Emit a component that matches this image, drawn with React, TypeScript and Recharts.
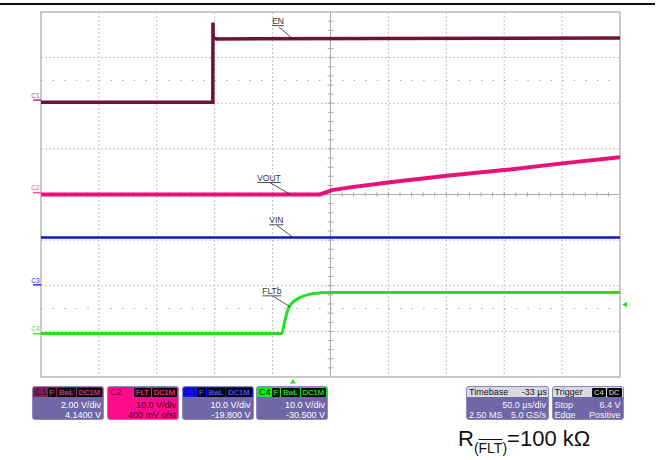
import React from 'react';
import {
  ComposedChart,
  Line,
  XAxis,
  YAxis,
  CartesianGrid,
  ReferenceLine,
  ReferenceDot,
  ReferenceArea,
} from 'recharts';

// Time axis in µs (10 div x 50 µs/div), vertical axis in screen divisions (centre = 0)
const timeTicks = [0, 50, 100, 150, 200, 250, 300, 350, 400, 450, 500];
const levelTicks = [-4, -3, -2, -1, 0, 1, 2, 3, 4];
const minorTimeTicks = Array.from({ length: 49 }, (_, i) => (i + 1) * 10);
const minorLevelTicks = Array.from({ length: 39 }, (_, i) => -4 + (i + 1) * 0.2);

// C1 (EN)
const enData = [
  { t: 0, v: 2.02 },
  { t: 148.4, v: 2.02 },
  { t: 148.5, v: 3.77 },
  { t: 148.8, v: 3.43 },
  { t: 152, v: 3.41 },
  { t: 500, v: 3.43 },
];
// C2 (VOUT)
const voutData = [
  { t: 0, v: 0 },
  { t: 240.9, v: 0 },
  { t: 251.3, v: 0.096 },
  { t: 266.8, v: 0.156 },
  { t: 299.7, v: 0.261 },
  { t: 350.3, v: 0.41 },
  { t: 400.1, v: 0.535 },
  { t: 450.2, v: 0.682 },
  { t: 500, v: 0.814 },
];
// C3 (VIN)
const vinData = [
  { t: 0, v: -0.94 },
  { t: 500, v: -0.94 },
];
// C4 (FLTb)
const fltData = [
  { t: 0, v: -3.046 },
  { t: 207.9, v: -3.046 },
  { t: 210.7, v: -2.754 },
  { t: 213.6, v: -2.498 },
  { t: 217.9, v: -2.353 },
  { t: 223.7, v: -2.257 },
  { t: 232.3, v: -2.184 },
  { t: 240.9, v: -2.156 },
  { t: 249.6, v: -2.147 },
  { t: 500, v: -2.147 },
];

// trace labels and their anchor points on the traces
const traceLabelText = ['EN', 'VOUT', 'VIN', 'FLTb'];
const traceLabelT = [216.9, 215.6, 217.6, 215.0];
const traceLabelV = [3.425, 0, -0.94, -2.46];

// channel ground markers (offset / scale in divisions)
const markerNames = ['C1', 'C2', 'C3', 'C4'];
const markerLevels = [2.07, 0.04, -1.98, -3.05];

// trigger
const triggerTime = 217.6;
const triggerLevel = -2.41;

// info boxes
const chanNames = ['C1', 'C2', 'C3', 'C4'];
const chanBadges = [
  ['F', 'BwL', 'DC1M'],
  ['FLT', 'DC1M'],
  ['F', 'BwL', 'DC1M'],
  ['F', 'BwL', 'DC1M'],
];
const chanScale = ['2.00 V/div', '10.0 V/div', '10.0 V/div', '10.0 V/div'];
const chanOffset = ['4.1400 V', '400 mV ofst', '-19.800 V', '-30.500 V'];

const timebaseText = ['Timebase', '-33 µs', '50.0 µs/div', '2.50 MS', '5.0 GS/s'];
const triggerText = ['Trigger', 'C4', 'DC', 'Stop', '6.4 V', 'Edge', 'Positive'];

// ---------- styling ----------
const FONT = '"Liberation Sans", Arial, sans-serif';
const traceColors = ['#6e1238', '#e8117a', '#1414c8', '#22e022'];
const markerColors = ['#a3406e', '#ff4fa3', '#2b2bff', '#3fe63f'];
const labelOffsets = [
  { tx: -20, ty: -17, lx: -13, ly: -11 },
  { tx: -33.5, ty: -16.5, lx: -21, ly: -12 },
  { tx: -23.7, ty: -17, lx: -16, ly: -12 },
  { tx: -27.7, ty: -15.3, lx: -16.7, ly: -10.4 },
];
const boxStyles = [
  { head: '#7d2352', name: '#3a0820', badgeBg: '#2a0614', badgeFg: '#c0608a', body: '#6f67a6', bodyFg: '#ffffff' },
  { head: '#ff0c8c', name: '#5a0030', badgeBg: '#1a0010', badgeFg: '#ff5aac', body: '#ff0c8c', bodyFg: '#3a0020' },
  { head: '#1010f0', name: '#00006a', badgeBg: '#000040', badgeFg: '#7070ff', body: '#6f67a6', bodyFg: '#ffffff' },
  { head: '#10ee10', name: '#003000', badgeBg: '#001a00', badgeFg: '#40ff40', body: '#6f67a6', bodyFg: '#ffffff' },
];
const boxLefts = [32, 107, 181.5, 256];

const Badge = ({ text, bg, fg }: { text: string; bg: string; fg: string }) => (
  <span
    style={{
      background: bg,
      color: fg,
      border: '1px solid #000',
      borderRadius: 1,
      fontSize: 7.5,
      lineHeight: '7px',
      height: 7,
      padding: '0 1px',
      marginLeft: 1,
      display: 'inline-block',
    }}
  >
    {text}
  </span>
);

const ChannelBox = ({ i }: { i: number }) => {
  const s = boxStyles[i];
  return (
    <div
      style={{
        position: 'absolute',
        left: boxLefts[i],
        top: 386,
        width: 72,
        height: 34,
        background: s.body,
        borderRadius: 3,
        border: '1px solid #8f88c0',
        boxSizing: 'border-box',
        overflow: 'hidden',
        fontFamily: FONT,
      }}
    >
      <div
        style={{
          height: 10,
          background: s.head,
          display: 'flex',
          alignItems: 'center',
          justifyContent: 'space-between',
          padding: '0 1px 0 2px',
        }}
      >
        <span style={{ color: s.name, fontSize: 9, lineHeight: '10px' }}>{chanNames[i]}</span>
        <span style={{ display: 'flex' }}>
          {chanBadges[i].map((b) => (
            <Badge key={b} text={b} bg={s.badgeBg} fg={s.badgeFg} />
          ))}
        </span>
      </div>
      <div
        style={{
          color: s.bodyFg,
          fontSize: 9,
          lineHeight: '10px',
          textAlign: 'right',
          padding: '3px 2px 0 0',
          whiteSpace: 'nowrap',
        }}
      >
        <div>{chanScale[i]}</div>
        <div>{chanOffset[i]}</div>
      </div>
    </div>
  );
};

const InfoBox = ({ left, width, children, header }: any) => (
  <div
    style={{
      position: 'absolute',
      left,
      top: 386,
      width,
      height: 34,
      background: '#6f67a6',
      borderRadius: 3,
      border: '1px solid #8f88c0',
      boxSizing: 'border-box',
      overflow: 'hidden',
      fontFamily: FONT,
    }}
  >
    <div
      style={{
        height: 10,
        background: '#d9d9e2',
        display: 'flex',
        alignItems: 'center',
        justifyContent: 'space-between',
        padding: '0 1px 0 2px',
        fontSize: 9,
        lineHeight: '10px',
        color: '#111',
      }}
    >
      {header}
    </div>
    <div style={{ color: '#f4f4ff', fontSize: 9, lineHeight: '10px', padding: '3px 2px 0 2px' }}>{children}</div>
  </div>
);

const Row = ({ l, r }: { l?: string; r: string }) => (
  <div style={{ display: 'flex', justifyContent: 'space-between', whiteSpace: 'nowrap' }}>
    <span>{l || ''}</span>
    <span>{r}</span>
  </div>
);

export default function App() {
  const lineColors = traceColors;
  return (
    <div style={{ position: 'absolute', left: 0, top: 0, width: 661, height: 460, background: '#fff', fontFamily: FONT }}>
      <div style={{ position: 'absolute', left: 0, top: 3, width: 655, height: 1.5, background: '#111' }} />
      <ComposedChart width={661} height={460} margin={{ top: 12, left: 41, right: 41, bottom: 83 }}>
        <XAxis type="number" dataKey="t" domain={[0, 500]} ticks={timeTicks} hide allowDataOverflow />
        <YAxis type="number" domain={[-4, 4]} ticks={levelTicks} hide allowDataOverflow />
        <CartesianGrid stroke="#c2c2c2" strokeDasharray="2 2" />
        <ReferenceLine y={2.5} stroke="#a8a8a8" strokeDasharray="1.5 10.08" />
        <ReferenceLine y={-2.5} stroke="#a8a8a8" strokeDasharray="1.5 10.08" />
        <ReferenceLine x={250} stroke="#aaaaaa" />
        <ReferenceLine y={0} stroke="#aaaaaa" />
        {minorTimeTicks.map((t) => (
          <ReferenceLine
            key={'tx' + t}
            segment={[
              { x: t, y: -0.05 },
              { x: t, y: 0.05 },
            ]}
            stroke="#aaaaaa"
          />
        ))}
        {minorLevelTicks.map((v) => (
          <ReferenceLine
            key={'ty' + v}
            segment={[
              { x: 247.5, y: v },
              { x: 252.5, y: v },
            ]}
            stroke="#aaaaaa"
          />
        ))}
        <ReferenceArea x1={0} x2={500} y1={-4} y2={4} fill="none" stroke="#bdbdbd" strokeWidth={1.5} ifOverflow="visible" />

        <Line data={vinData} dataKey="v" type="linear" dot={false} activeDot={false} stroke={lineColors[2]} strokeWidth={2.5} isAnimationActive={false} />
        <Line data={fltData} dataKey="v" type="monotone" dot={false} activeDot={false} stroke={lineColors[3]} strokeWidth={3} isAnimationActive={false} />
        <Line data={voutData} dataKey="v" type="linear" dot={false} activeDot={false} stroke={lineColors[1]} strokeWidth={4} isAnimationActive={false} />
        <Line data={enData} dataKey="v" type="linear" dot={false} activeDot={false} stroke={lineColors[0]} strokeWidth={3.5} isAnimationActive={false} />

        {traceLabelText.map((txt, i) => (
          <ReferenceDot
            key={txt}
            x={traceLabelT[i]}
            y={traceLabelV[i]}
            r={0}
            ifOverflow="visible"
            shape={(p: any) => {
              const o = labelOffsets[i];
              return (
                <g>
                  <line x1={p.cx + o.lx} y1={p.cy + o.ly} x2={p.cx} y2={p.cy} stroke="#222" strokeWidth={0.8} />
                  <text
                    x={p.cx + o.tx}
                    y={p.cy + o.ty + 3}
                    fontSize={8.5}
                    fontFamily={FONT}
                    fill="#333"
                    style={{ textDecoration: 'underline' }}
                  >
                    {txt}
                  </text>
                </g>
              );
            }}
          />
        ))}

        {markerNames.map((m, i) => (
          <ReferenceDot
            key={m}
            x={0}
            y={markerLevels[i]}
            r={0}
            ifOverflow="visible"
            shape={(p: any) => (
              <g>
                <line x1={p.cx - 8} y1={p.cy} x2={p.cx} y2={p.cy} stroke={markerColors[i]} strokeWidth={1.5} />
                <text x={p.cx - 1.5} y={p.cy - 2.3} fontSize={6.5} fontFamily={FONT} fill={markerColors[i]} textAnchor="end">
                  {m}
                </text>
              </g>
            )}
          />
        ))}

        <ReferenceDot
          x={triggerTime}
          y={-4}
          r={0}
          ifOverflow="visible"
          shape={(p: any) => (
            <polygon
              points={`${p.cx},${p.cy + 2} ${p.cx - 3},${p.cy + 6.5} ${p.cx + 3},${p.cy + 6.5}`}
              fill="#22e022"
            />
          )}
        />
        <ReferenceDot
          x={500}
          y={triggerLevel}
          r={0}
          ifOverflow="visible"
          shape={(p: any) => (
            <polygon
              points={`${p.cx + 2},${p.cy} ${p.cx + 7},${p.cy - 2.8} ${p.cx + 7},${p.cy + 2.8}`}
              fill="#22e022"
            />
          )}
        />
      </ComposedChart>

      {chanNames.map((c, i) => (
        <ChannelBox key={c} i={i} />
      ))}

      <InfoBox
        left={466}
        width={83}
        header={
          <>
            <span>{timebaseText[0]}</span>
            <span>{timebaseText[1]}</span>
          </>
        }
      >
        <Row r={timebaseText[2]} />
        <Row l={timebaseText[3]} r={timebaseText[4]} />
      </InfoBox>
      <InfoBox
        left={551.5}
        width={72}
        header={
          <>
            <span>{triggerText[0]}</span>
            <span style={{ display: 'flex' }}>
              <Badge text={triggerText[1]} bg="#000" fg="#e0e0e0" />
              <Badge text={triggerText[2]} bg="#000" fg="#e0e0e0" />
            </span>
          </>
        }
      >
        <Row l={triggerText[3]} r={triggerText[4]} />
        <Row l={triggerText[5]} r={triggerText[6]} />
      </InfoBox>

      <div
        style={{
          position: 'absolute',
          left: 458,
          top: 428.4,
          fontSize: 22,
          lineHeight: '22px',
          fontFamily: FONT,
          color: '#111',
          whiteSpace: 'nowrap',
        }}
      >
        R
        <span style={{ fontSize: 14, position: 'relative', top: 7 }}>
          (<span style={{ textDecoration: 'overline' }}>FLT</span>)
        </span>
        =100 kΩ
      </div>
    </div>
  );
}
